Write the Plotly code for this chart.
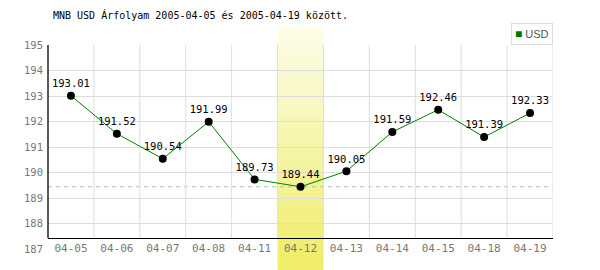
import plotly.graph_objects as go

dates = ["04-05", "04-06", "04-07", "04-08", "04-11", "04-12", "04-13",
         "04-14", "04-15", "04-18", "04-19"]
usd = [193.01, 191.52, 190.54, 191.99, 189.73, 189.44, 190.05,
       191.59, 192.46, 191.39, 192.33]
y_ticks = [187, 188, 189, 190, 191, 192, 193, 194, 195]
title = "MNB USD Árfolyam 2005-04-05 és 2005-04-19 között."
highlight = "04-12"
series_name = "USD"

W, H = 600, 270
L, R, T, B = 48, 47, 44.5, 21
ph = H - T - B
axis_val = 187.43
mono = "DejaVu Sans Mono"

fig = go.Figure()
xs = list(range(len(dates)))
fig.add_trace(go.Scatter(
    x=xs, y=usd, mode="lines+markers+text",
    line=dict(color="#008000", width=1),
    marker=dict(color="black", size=8),
    text=[f"{v:.2f}" for v in usd], textposition="top center",
    textfont=dict(family=mono, size=10.5, color="black"),
    cliponaxis=False, showlegend=False, hoverinfo="skip"))

shapes = []
# highlight band gradient
hi = dates.index(highlight)
top_px, bot_px = 27, 270
n = 30
c0 = (253, 253, 232)
c1 = (240, 237, 105)
for k in range(n):
    f = k / (n - 1)
    col = tuple(int(c0[j] + (c1[j] - c0[j]) * f) for j in range(3))
    ya = top_px + (bot_px - top_px) * k / n
    yb = top_px + (bot_px - top_px) * (k + 1) / n + 0.5
    shapes.append(dict(type="rect", xref="x", yref="paper",
                       x0=hi - 0.5, x1=hi + 0.5,
                       y0=(H - B - yb) / ph, y1=(H - B - ya) / ph,
                       fillcolor=f"rgb{col}", line=dict(width=0), layer="between"))
# vertical grid lines
for i in range(len(dates)):
    shapes.append(dict(type="line", xref="x", yref="y", x0=i + 0.5, x1=i + 0.5,
                       y0=axis_val, y1=y_ticks[-1], line=dict(color="#dddddd", width=1),
                       layer="below"))
# left axis line
shapes.append(dict(type="line", xref="paper", yref="y", x0=0, x1=0,
                   y0=axis_val, y1=y_ticks[-1], line=dict(color="black", width=1.3),
                   layer="above"))
# min dashed line
shapes.append(dict(type="line", xref="paper", yref="y", x0=0, x1=1,
                   y0=min(usd), y1=min(usd),
                   line=dict(color="#a8c8a8", width=1, dash="4px,4px"), layer="between"))
fig.update_layout(shapes=shapes)

fig.add_annotation(
    xref="paper", yref="paper", x=1, y=(H - B - 22) / ph, xanchor="right", yanchor="top",
    text=f"<span style='color:#007000;font-size:12px'>■</span> {series_name}", showarrow=False,
    font=dict(family="Liberation Sans", size=11, color="#555"),
    bordercolor="#dddddd", borderwidth=1, borderpad=3, bgcolor="white")

fig.update_layout(
    width=W, height=H, margin=dict(l=L, r=R, t=T, b=B),
    paper_bgcolor="white", plot_bgcolor="white",
    title=dict(text=title, x=53 / W, xanchor="left", xref="container",
               y=1 - 15 / H, yanchor="middle", yref="container",
               font=dict(family=mono, size=10, color="black")),
    xaxis=dict(range=[-0.5, len(dates) - 0.5], tickmode="array", tickvals=xs,
               ticktext=dates, showgrid=False, zeroline=False,
               anchor="free", position=(H - B - 238) / ph,
               showline=True, linecolor="black", linewidth=1.3,
               tickfont=dict(family=mono, size=11, color="#777"), ticks=""),
    yaxis=dict(range=[y_ticks[0], y_ticks[-1]], tickvals=y_ticks,
               showgrid=True, gridcolor="#dddddd", gridwidth=1, zeroline=False,
               showline=False, ticks="", ticklabelstandoff=4,
               tickfont=dict(family=mono, size=10.5, color="#777")),
)

fig.write_html("out.html")
